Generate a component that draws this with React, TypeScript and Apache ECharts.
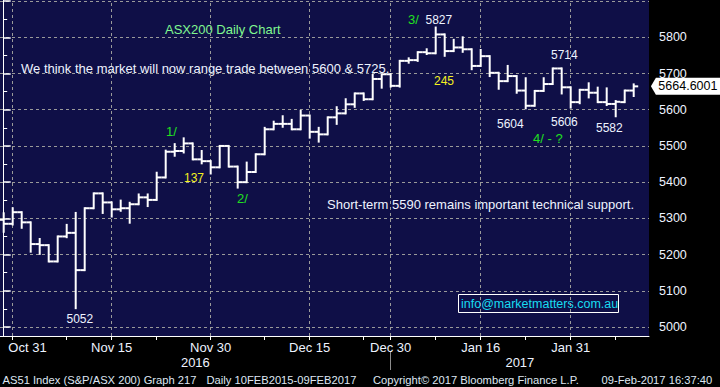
import React, { useEffect, useRef } from 'react';
import * as echarts from 'echarts';

// ---- Data (ASX200 daily bars) ----
const DATES = ['Oct 28','Oct 31','Nov 1','Nov 2','Nov 3','Nov 4','Nov 7','Nov 8','Nov 9','Nov 10','Nov 11','Nov 14','Nov 15','Nov 16','Nov 17','Nov 18','Nov 21','Nov 22','Nov 23','Nov 24','Nov 25','Nov 28','Nov 29','Nov 30','Dec 1','Dec 2','Dec 5','Dec 6','Dec 7','Dec 8','Dec 9','Dec 12','Dec 13','Dec 14','Dec 15','Dec 16','Dec 19','Dec 20','Dec 21','Dec 22','Dec 23','Dec 28','Dec 29','Dec 30','Jan 3','Jan 4','Jan 5','Jan 6','Jan 9','Jan 10','Jan 11','Jan 12','Jan 13','Jan 16','Jan 17','Jan 18','Jan 19','Jan 20','Jan 23','Jan 24','Jan 25','Jan 27','Jan 30','Jan 31','Feb 1','Feb 2','Feb 3','Feb 6','Feb 7','Feb 8','Feb 9'];
const OPEN = [5296,5285,5317,5289,5229,5226,5181,5250,5260,5157,5328,5369,5344,5325,5328,5339,5358,5351,5413,5484,5486,5507,5463,5458,5441,5500,5443,5400,5428,5477,5546,5561,5561,5546,5584,5539,5532,5579,5590,5615,5645,5629,5685,5698,5666,5735,5737,5759,5756,5808,5762,5772,5767,5721,5748,5702,5679,5693,5653,5611,5652,5671,5714,5662,5621,5655,5647,5621,5616,5621,5653];
const HIGH = [5314,5328,5317,5289,5243,5226,5250,5282,5315,5328,5369,5369,5344,5349,5343,5366,5366,5426,5487,5505,5521,5507,5486,5458,5500,5500,5443,5454,5477,5550,5567,5582,5572,5597,5584,5550,5579,5607,5629,5645,5645,5696,5698,5698,5735,5742,5759,5767,5827,5808,5793,5800,5767,5765,5748,5702,5721,5693,5687,5652,5687,5714,5714,5662,5655,5673,5661,5659,5624,5653,5670];
const LOW = [5263,5283,5274,5208,5202,5181,5181,5248,5052,5157,5328,5315,5305,5321,5288,5339,5334,5351,5413,5473,5482,5463,5452,5424,5441,5443,5385,5400,5428,5477,5546,5553,5546,5546,5523,5512,5532,5561,5590,5608,5627,5629,5661,5664,5664,5730,5735,5754,5756,5749,5762,5760,5712,5721,5693,5658,5679,5647,5604,5611,5652,5671,5645,5606,5618,5634,5621,5613,5582,5621,5638];
const CLOSE = [5285,5317,5289,5229,5226,5181,5250,5260,5157,5328,5369,5344,5325,5328,5339,5358,5351,5413,5484,5486,5507,5463,5458,5441,5500,5443,5400,5428,5477,5546,5561,5561,5546,5584,5539,5532,5579,5590,5615,5645,5629,5685,5698,5666,5735,5737,5759,5756,5808,5762,5772,5767,5721,5748,5702,5679,5693,5653,5611,5652,5671,5714,5662,5621,5655,5647,5621,5616,5622,5653,5664.6001];
const LAST_PRICE_LABEL = '5664.6001';

// axis labels / ticks
const MAJOR_LABELS = ['Oct 31','Nov 15','Nov 30','Dec 15','Dec 30','Jan 16','Jan 31'];
const MINOR_TICKS = ['Nov 8','Nov 22','Dec 8','Dec 23','Jan 9','Jan 23','Feb 7'];
const YEAR_LABELS = ['2016','2017'];
const YEAR_BREAK = 'Dec 30';
const Y_TICKS = [5000,5100,5200,5300,5400,5500,5600,5700,5800,5900];
const Y_LABELS = [5000,5100,5200,5300,5400,5500,5600,5700,5800];
const Y_MINOR = [5050,5150,5250,5350,5450,5550,5650,5750,5850];

// annotations
const NOTES: [string, number, number, string, number][] = [
  ['ASX200 Daily Chart', 165, 29.5, 'lightgreen', 13],
  ['We think the market will now range trade between 5600 & 5725.', 21, 68, 'white', 13],
  ['1/', 166, 131, 'green', 13],
  ['137', 184, 177.5, 'yellow', 12],
  ['2/', 237, 198, 'green', 13],
  ['3/', 408, 19.5, 'green', 13],
  ['5827', 425.5, 19.5, 'white', 12],
  ['245', 434, 81, 'yellow', 12],
  ['5714', 551, 55, 'white', 12],
  ['5604', 497, 123.5, 'white', 12],
  ['5606', 551, 122, 'white', 12],
  ['4/ - ?', 533, 138, 'green', 13],
  ['5582', 596, 127.5, 'white', 12],
  ['5052', 66.5, 318.5, 'white', 12],
  ['Short-term 5590 remains important technical support.', 327, 204, 'white', 13],
];
const FOOTER: [string, number][] = [
  ['AS51 Index (S&P/ASX 200) Graph 217', 2.5],
  ['Daily 10FEB2015-09FEB2017', 206.5],
  ['Copyright\u00A9 2017 Bloomberg Finance L.P.', 373],
  ['09-Feb-2017 16:37:40', 601.5],
];
const EMAIL = 'info@marketmatters.com.au';

const COLORS: Record<string, string> = {
  white: '#eef3ff',
  green: '#20e020',
  lightgreen: '#80f890',
  yellow: '#f4f020',
};
const NAVY = '#0f0f47';
const GRID_GRAY = '#9a9a9a';
const FONT = "'Liberation Sans', Arial, sans-serif";

// layout
const PLOT_W = 649;
const STEP = 9;
const X_MIN = -3.7 / STEP;
const X_MAX = X_MIN + PLOT_W / STEP;
const Y_MIN = 4975.1;
const Y_MAX = 5903.1;

const idxOf = (d: string) => DATES.indexOf(d);

export default function App() {
  const ref = useRef<HTMLDivElement>(null);
  useEffect(() => {
    if (!ref.current) return;
    const chart = echarts.init(ref.current, null, { renderer: 'svg' });
    const majorIdx = MAJOR_LABELS.map(idxOf);
    const minorIdx = MINOR_TICKS.map(idxOf);
    const labelMap: Record<number, string> = {};
    MAJOR_LABELS.forEach((l, i) => (labelMap[majorIdx[i]] = l));
    const breakIdx = idxOf(YEAR_BREAK);
    const yearPos = [(X_MIN + breakIdx) / 2, (breakIdx + X_MAX) / 2];

    const data = DATES.map((d, i) => [i, OPEN[i], HIGH[i], LOW[i], CLOSE[i]]);
    const last = CLOSE[CLOSE.length - 1];

    const graphics: any[] = [];
    NOTES.forEach(([t, x, y, c, s]) => {
      graphics.push({
        type: 'text', x, y, silent: true,
        style: { text: t, fill: COLORS[c], font: `${s}px ${FONT}`, align: 'left', verticalAlign: 'middle' },
      });
    });
    graphics.push({
      type: 'rect', shape: { x: 458.5, y: 294.5, width: 160, height: 18 },
      style: { fill: 'none', stroke: '#ffffff', lineWidth: 1 }, silent: true,
    });
    graphics.push({
      type: 'text', x: 461, y: 303.5, silent: true,
      style: { text: EMAIL, fill: '#18dcf0', font: `12.5px ${FONT}`, align: 'left', verticalAlign: 'middle' },
    });
    FOOTER.forEach(([t, x]) => {
      graphics.push({
        type: 'text', x, y: 379.5, silent: true,
        style: { text: t, fill: '#dfe7f2', font: `11.2px ${FONT}`, align: 'left', verticalAlign: 'middle' },
      });
    });

    const option: any = {
      animation: false,
      backgroundColor: '#000000',
      grid: {
        left: 0, right: 720 - PLOT_W, top: 0, bottom: 51,
        show: true, backgroundColor: NAVY, borderWidth: 0,
        outerBoundsMode: 'none',
      },
      xAxis: [
        {
          type: 'value', min: X_MIN, max: X_MAX, position: 'bottom',
          axisLine: { show: true, onZero: false, lineStyle: { color: '#ffffff', width: 1 } },
          axisTick: { show: true, customValues: [...majorIdx, ...minorIdx].sort((a, b) => a - b), length: 4, lineStyle: { color: '#ffffff' } },
          axisLabel: {
            show: true, customValues: majorIdx, margin: 5, color: '#eef3ff', fontSize: 13, fontFamily: FONT,
            formatter: (v: number) => {
              const k = Math.round(v);
              const t = labelMap[k] || '';
              return k === majorIdx[0] ? `{f|${t}}` : t;
            },
            rich: { f: { padding: [0, 0, 0, 29.6], color: '#eef3ff', fontSize: 13, fontFamily: FONT } },
          },
          splitLine: { show: false },
        },
        {
          type: 'value', min: X_MIN, max: X_MAX, position: 'bottom', offset: 16,
          axisLine: { show: false, onZero: false },
          axisTick: { show: true, customValues: [breakIdx], length: 18, lineStyle: { color: '#8c8c8c' } },
          axisLabel: {
            show: true, customValues: yearPos, margin: 4, color: '#eef3ff', fontSize: 13, fontFamily: FONT,
            formatter: (v: number) => (v < breakIdx ? YEAR_LABELS[0] : YEAR_LABELS[1]),
          },
          splitLine: { show: false },
        },
      ],
      yAxis: [
        {
          type: 'value', position: 'right', min: Y_MIN, max: Y_MAX, splitNumber: 9,
          axisLine: { show: true, lineStyle: { color: '#ffffff', width: 1 } },
          axisTick: { show: true, customValues: Y_TICKS, length: 7, lineStyle: { color: '#ffffff', width: 1.5 } },
          axisLabel: {
            show: true, customValues: Y_LABELS, margin: 10, color: '#eef3ff', fontSize: 12.5, fontFamily: FONT,
            formatter: (v: number) => String(Math.round(v)),
          },
          splitLine: { show: true, lineStyle: { color: GRID_GRAY, type: [3, 3], width: 1 } },
        },
        {
          type: 'value', position: 'right', min: Y_MIN, max: Y_MAX,
          axisLine: { show: false },
          axisTick: { show: true, customValues: Y_MINOR, length: 3.5, lineStyle: { color: '#ffffff', width: 1 } },
          axisLabel: { show: false },
          splitLine: { show: false },
        },
      ],
      series: [
        {
          type: 'custom',
          xAxisIndex: 0, yAxisIndex: 0,
          data,
          encode: { x: 0, y: [1, 2, 3, 4] },
          clip: true,
          z: 3,
          renderItem: (params: any, api: any) => {
            const x = api.value(0);
            const o = api.coord([x, api.value(1)]);
            const h = api.coord([x, api.value(2)]);
            const l = api.coord([x, api.value(3)]);
            const c = api.coord([x, api.value(4)]);
            const half = api.size([1, 0])[0] / 2;
            const st = { stroke: '#ffffff', lineWidth: 2 };
            return {
              type: 'group',
              children: [
                { type: 'line', shape: { x1: h[0], y1: h[1] - 1, x2: l[0], y2: l[1] + 1 }, style: st },
                { type: 'line', shape: { x1: o[0] - half, y1: o[1], x2: o[0], y2: o[1] }, style: st },
                { type: 'line', shape: { x1: c[0], y1: c[1], x2: c[0] + half, y2: c[1] }, style: st },
              ],
            };
          },
          markLine: {
            silent: true, z: 1, symbol: ['none', 'none'],
            label: { show: false },
            lineStyle: { color: GRID_GRAY, type: [3, 3], width: 1 },
            data: majorIdx.map((i) => ({ xAxis: i })),
          },
          markPoint: {
            silent: true,
            symbol: 'path://M0,8.5 L5,0 L70,0 L70,17 L5,17 Z',
            symbolSize: [70, 17],
            symbolKeepAspect: false,
            symbolOffset: [37, 0],
            itemStyle: { color: '#ffffff' },
            label: {
              show: true, position: 'inside', offset: [2, 0],
              formatter: LAST_PRICE_LABEL, color: '#000000', fontSize: 12.5, fontFamily: FONT,
            },
            data: [{ coord: [X_MAX - 0.01, last], value: last }],
          },
        },
      ],
      graphic: graphics,
    };
    chart.setOption(option);
    return () => chart.dispose();
  }, []);
  return (
    <div
      ref={ref}
      style={{ position: 'fixed', left: 0, top: 0, width: 720, height: 387, background: '#000' }}
    />
  );
}
